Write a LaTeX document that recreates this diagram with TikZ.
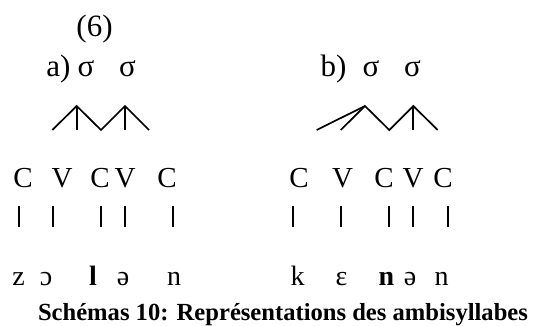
\documentclass[tikz,border=0pt]{standalone}
\usepackage{fontspec}
\setmainfont{Liberation Serif}
\begin{document}
\begin{tikzpicture}[x=1pt,y=-1pt,
  toptext/.style={anchor=base, inner sep=0pt, font=\fontsize{31}{36}\selectfont},
  segtext/.style={anchor=base, inner sep=0pt, font=\fontsize{29}{34}\selectfont},
  phontext/.style={anchor=base, inner sep=0pt, font=\fontsize{28}{33}\selectfont},
  captext/.style={anchor=base, inner sep=0pt, font=\fontsize{24.6}{30}\selectfont\bfseries},
  branch/.style={line width=1.7pt, line join=miter},
  bar/.style={line width=1.7pt}]
\useasboundingbox (0,0) rectangle (533,326);
% numbering
\node[toptext] (num) at (94.5,37) {(6)};
% (a) header
\node[toptext] (la) at (58.5,77) {a)};
\node[toptext] (sa1) at (86,77) {σ};
\node[toptext] (sa2) at (127.5,77) {σ};
% (b) header
\node[toptext] (lb) at (333.5,77) {b)};
\node[toptext] (sb1) at (371,77) {σ};
\node[toptext] (sb2) at (412.5,77) {σ};
% tree a
\coordinate (ap1) at (76.7,106);
\coordinate (ap2) at (125,106);
\coordinate (af1) at (52.3,130);
\coordinate (af2) at (76.7,130);
\coordinate (av)  at (101,130);
\coordinate (af3) at (125,130);
\coordinate (af4) at (149,130);
\draw[branch] (af1) -- (ap1) -- (av) -- (ap2) -- (af4);
\draw[branch] (ap1) -- (af2);
\draw[branch] (ap2) -- (af3);
% tree b
\coordinate (bp1) at (365,106);
\coordinate (bp2) at (413.3,106);
\coordinate (bf1) at (316.7,130);
\coordinate (bf2) at (340.7,130);
\coordinate (bv)  at (389.3,130);
\coordinate (bf3) at (413.3,130);
\coordinate (bf4) at (437.7,130);
\draw[branch] (bf2) -- (bp1) -- (bv) -- (bp2) -- (bf4);
\draw[branch] (bf1) -- (bp1);
\draw[branch] (bp2) -- (bf3);
% CV tier a
\node[segtext] (ca1) at (23,187) {C};
\node[segtext] (va1) at (62,187) {V};
\node[segtext] (ca2) at (100,187) {C};
\node[segtext] (va2) at (125,187) {V};
\node[segtext] (ca3) at (167,187) {C};
% CV tier b
\node[segtext] (cb1) at (299,187) {C};
\node[segtext] (vb1) at (342.5,187) {V};
\node[segtext] (cb2) at (384,187) {C};
\node[segtext] (vb2) at (413,187) {V};
\node[segtext] (cb3) at (443,187) {C};
% bars a
\foreach \i/\x in {1/19.3,2/52.7,3/101,4/125,5/172.7}{
  \coordinate (tat\i) at (\x,206); \coordinate (tab\i) at (\x,226.5);
  \draw[bar] (tat\i) -- (tab\i);}
% bars b
\foreach \i/\x in {1/293.3,2/340.7,3/389.3,4/412.7,5/448.3}{
  \coordinate (tbt\i) at (\x,206); \coordinate (tbb\i) at (\x,226.5);
  \draw[bar] (tbt\i) -- (tbb\i);}
% phonemes a
\node[phontext] (pa1) at (18.5,285.7) {z};
\node[phontext] (pa2) at (46,285.7) {ɔ};
\node[phontext] (pa3) at (93,285.7) {\bfseries l};
\node[phontext] (pa4) at (123,285.7) {ə};
\node[phontext] (pa5) at (174,285.7) {n};
% phonemes b
\node[phontext] (pb1) at (297.5,285.7) {k};
\node[phontext] (pb2) at (341.5,285.7) {ɛ};
\node[phontext] (pb3) at (386.5,285.7) {\bfseries n};
\node[phontext] (pb4) at (410,285.7) {ə};
\node[phontext] (pb5) at (441.5,285.7) {n};
% caption
\node[captext] (caption) at (283,320) {Schémas 10: Représentations des ambisyllabes};
\end{tikzpicture}
\end{document}
